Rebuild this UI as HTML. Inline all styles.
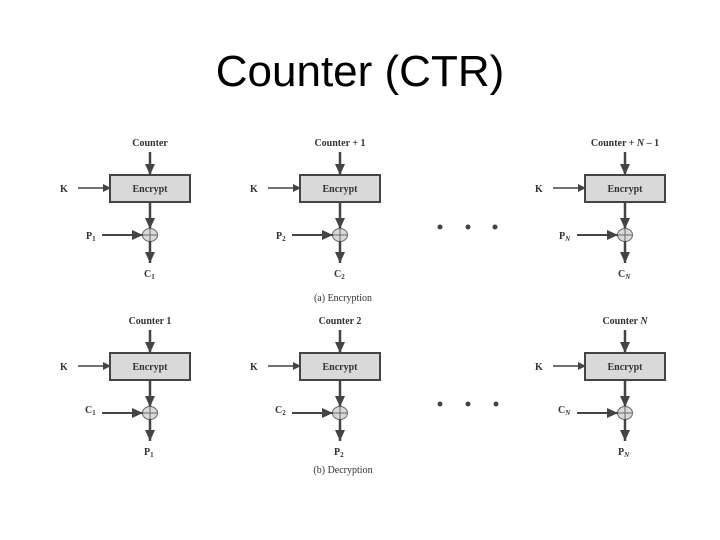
<!DOCTYPE html>
<html><head><meta charset="utf-8"><style>
html,body{margin:0;padding:0;background:#fff;}
svg{display:block;}
.t{font-family:"Liberation Serif",serif;font-weight:bold;font-size:10px;fill:#333;}
.s{font-size:7px;}
</style></head><body>
<svg width="720" height="540" viewBox="0 0 720 540" xmlns="http://www.w3.org/2000/svg">
<defs>
<marker id="a" markerWidth="8" markerHeight="8" refX="7" refY="4" orient="auto" markerUnits="userSpaceOnUse">
<path d="M0,0 L8,4 L0,8 z" fill="#444"/></marker>
<marker id="b" markerWidth="12" markerHeight="10" refX="11" refY="5" orient="auto" markerUnits="userSpaceOnUse">
<path d="M0,0 L11,5 L0,10 z" fill="#444"/></marker>
<g id="blk">
<line x1="0" y1="-23" x2="0" y2="0" stroke="#444" stroke-width="2.5" marker-end="url(#b)"/>
<rect x="-40" y="0" width="80" height="27" fill="#d9d9d9" stroke="#444" stroke-width="2"/>
<line x1="-72" y1="13" x2="-40" y2="13" stroke="#444" stroke-width="1.5" marker-end="url(#a)"/>
<line x1="0" y1="27" x2="0" y2="54" stroke="#444" stroke-width="2.5" marker-end="url(#b)"/>
<ellipse cx="0" cy="60" rx="7.5" ry="6.5" fill="#d9d9d9" stroke="#666" stroke-width="1"/>
<line x1="-7.5" y1="60" x2="7.5" y2="60" stroke="#666" stroke-width="1"/>
<line x1="0" y1="53.5" x2="0" y2="66.5" stroke="#666" stroke-width="1"/>
<line x1="-48" y1="60" x2="-7" y2="60" stroke="#444" stroke-width="2" marker-end="url(#b)"/>
<line x1="0" y1="66" x2="0" y2="88" stroke="#444" stroke-width="2.5" marker-end="url(#b)"/>
</g>
</defs>
<text x="360" y="86" text-anchor="middle" font-family="Liberation Sans, sans-serif" font-size="44" fill="#000">Counter (CTR)</text>

<use href="#blk" x="150" y="175"/>
<use href="#blk" x="340" y="175"/>
<use href="#blk" x="625" y="175"/>
<use href="#blk" x="150" y="353"/>
<use href="#blk" x="340" y="353"/>
<use href="#blk" x="625" y="353"/>

<g class="t">
<text x="150" y="146" text-anchor="middle">Counter</text>
<text x="340" y="146" text-anchor="middle">Counter + 1</text>
<text x="625" y="146" text-anchor="middle">Counter + <tspan font-style="italic">N</tspan> – 1</text>
<text x="150" y="192" text-anchor="middle">Encrypt</text>
<text x="340" y="192" text-anchor="middle">Encrypt</text>
<text x="625" y="192" text-anchor="middle">Encrypt</text>
<text x="60" y="192">K</text><text x="250" y="192">K</text><text x="535" y="192">K</text>
<text x="86" y="239">P<tspan class="s" dy="2">1</tspan></text>
<text x="276" y="239">P<tspan class="s" dy="2">2</tspan></text>
<text x="559" y="239">P<tspan class="s" dy="2" font-style="italic">N</tspan></text>
<text x="144" y="277">C<tspan class="s" dy="2">1</tspan></text>
<text x="334" y="277">C<tspan class="s" dy="2">2</tspan></text>
<text x="618" y="277">C<tspan class="s" dy="2" font-style="italic">N</tspan></text>
<text x="343" y="301" text-anchor="middle" font-weight="normal">(a) Encryption</text>

<text x="150" y="324" text-anchor="middle">Counter 1</text>
<text x="340" y="324" text-anchor="middle">Counter 2</text>
<text x="625" y="324" text-anchor="middle">Counter <tspan font-style="italic">N</tspan></text>
<text x="150" y="370" text-anchor="middle">Encrypt</text>
<text x="340" y="370" text-anchor="middle">Encrypt</text>
<text x="625" y="370" text-anchor="middle">Encrypt</text>
<text x="60" y="370">K</text><text x="250" y="370">K</text><text x="535" y="370">K</text>
<text x="85" y="413">C<tspan class="s" dy="2">1</tspan></text>
<text x="275" y="413">C<tspan class="s" dy="2">2</tspan></text>
<text x="558" y="413">C<tspan class="s" dy="2" font-style="italic">N</tspan></text>
<text x="144" y="455">P<tspan class="s" dy="2">1</tspan></text>
<text x="334" y="455">P<tspan class="s" dy="2">2</tspan></text>
<text x="618" y="455">P<tspan class="s" dy="2" font-style="italic">N</tspan></text>
<text x="343" y="473" text-anchor="middle" font-weight="normal">(b) Decryption</text>
</g>

<g fill="#444">
<circle cx="440" cy="227" r="2.5"/><circle cx="468" cy="227" r="2.5"/><circle cx="495" cy="227" r="2.5"/>
<circle cx="440" cy="404" r="2.5"/><circle cx="468" cy="404" r="2.5"/><circle cx="496" cy="404" r="2.5"/>
</g>
</svg>
</body></html>
